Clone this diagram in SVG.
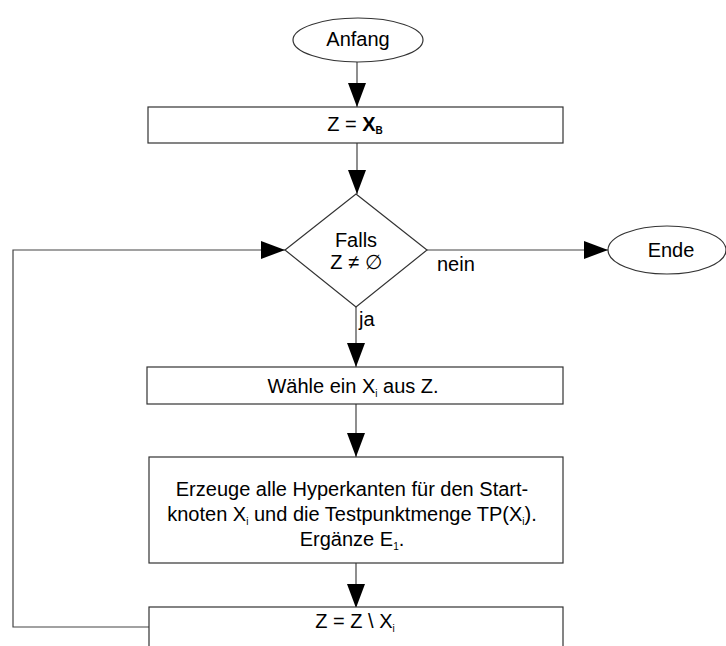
<svg xmlns="http://www.w3.org/2000/svg" width="726" height="646" viewBox="0 0 726 646">
<style>
.s{fill:#fff;stroke:#333;stroke-width:1.2}
.c{fill:none;stroke:#444;stroke-width:1.2}
text{font-family:"Liberation Sans",Arial,sans-serif;font-size:20px;fill:#000}
.m{text-anchor:middle}
.sub{font-size:10px}
</style>
<defs>
<marker id="a" viewBox="0 0 24 18" refX="24" refY="9" markerWidth="24" markerHeight="18" markerUnits="userSpaceOnUse" orient="auto">
<path d="M0,0 L24,9 L0,18 Z" fill="#000"/>
</marker>
</defs>
<g id="connectors">
<line class="c" x1="357" y1="62" x2="357" y2="107" marker-end="url(#a)"/>
<line class="c" x1="357" y1="143" x2="357" y2="194" marker-end="url(#a)"/>
<line class="c" x1="427" y1="250" x2="608" y2="250" marker-end="url(#a)"/>
<line class="c" x1="356" y1="307" x2="356" y2="367" marker-end="url(#a)"/>
<line class="c" x1="356" y1="404" x2="356" y2="457" marker-end="url(#a)"/>
<line class="c" x1="356" y1="563" x2="356" y2="608" marker-end="url(#a)"/>
<polyline class="c" points="149,627 13,627 13,250 285,250" marker-end="url(#a)"/>
<text x="437" y="271">nein</text>
<text x="359" y="326">ja</text>
</g>
<g id="anfang">
<ellipse class="s" cx="358" cy="40" rx="65" ry="22"/>
<text class="m" x="358" y="46">Anfang</text>
</g>
<g id="init">
<rect class="s" x="148" y="107" width="415" height="36"/>
<text class="m" x="355" y="131">Z = <tspan font-weight="bold">X</tspan><tspan class="sub" dy="3" font-weight="bold">B</tspan></text>
</g>
<g id="cond">
<polygon class="s" points="356,194 427,250 356,307 285,250"/>
<text class="m" x="356" y="247">Falls</text>
<text class="m" x="356" y="269">Z ≠ ∅</text>
</g>
<g id="ende">
<ellipse class="s" cx="667" cy="250" rx="59" ry="24"/>
<text class="m" x="671" y="257">Ende</text>
</g>
<g id="waehle">
<rect class="s" x="147" y="367" width="416" height="37"/>
<text class="m" x="353" y="393">Wähle ein X<tspan class="sub" dy="4">i</tspan><tspan dy="-4"> aus Z.</tspan></text>
</g>
<g id="erzeuge">
<rect class="s" x="149" y="457" width="414" height="106"/>
<text class="m" x="352" y="496">Erzeuge alle Hyperkanten für den Start-</text>
<text class="m" x="352" y="521">knoten X<tspan class="sub" dy="4">i</tspan><tspan dy="-4"> und die Testpunktmenge TP(X</tspan><tspan class="sub" dy="4">i</tspan><tspan dy="-4">).</tspan></text>
<text class="m" x="352" y="546">Ergänze E<tspan class="sub" dy="4">1</tspan><tspan dy="-4">.</tspan></text>
</g>
<g id="update">
<rect class="s" x="149" y="607" width="414" height="50"/>
<text class="m" x="355" y="628">Z = Z \ X<tspan class="sub" dy="4">i</tspan></text>
</g>
</svg>
